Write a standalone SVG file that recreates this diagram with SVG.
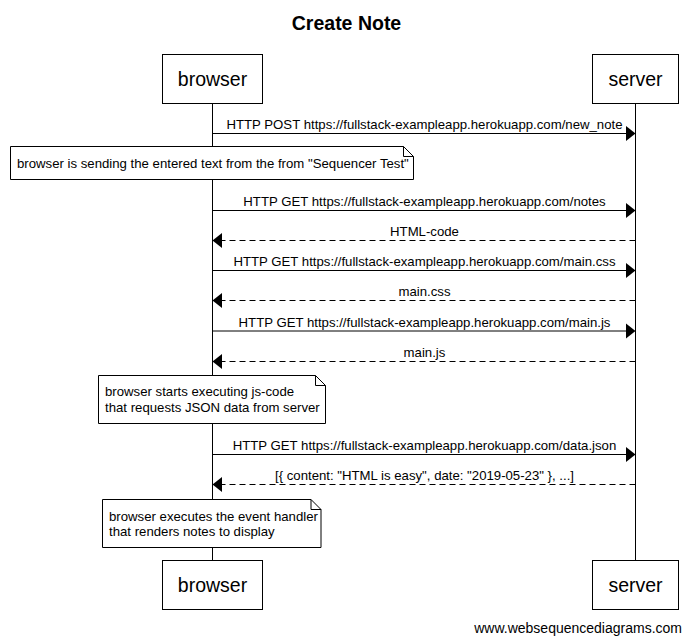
<svg xmlns="http://www.w3.org/2000/svg" width="693" height="643" viewBox="0 0 693 643">
<style>
text{font-family:"Liberation Sans",Arial,sans-serif;fill:#000}
.title{font-size:19.5px;font-weight:bold}
.actor{font-size:19.5px}
.msg{font-size:13.2px}
.foot{font-size:14px}
.box{fill:#fff;stroke:#000;stroke-width:1}
.life{stroke:#000;stroke-width:1;fill:none}
.sol{stroke:#000;stroke-width:1;fill:none}
.dash{stroke:#000;stroke-width:1;fill:none;stroke-dasharray:6,4}
.head{fill:#000;stroke:none}
</style>
<rect width="693" height="643" fill="#fff"/>
<text class="title" x="346.5" y="30" text-anchor="middle">Create Note</text>
<g id="lifelines">
<line class="life" x1="212.5" y1="103" x2="212.5" y2="561"/>
<line class="life" x1="635.5" y1="103" x2="635.5" y2="561"/>
</g>
<g id="browser">
<rect class="box" x="162.5" y="54.5" width="100" height="49"/>
<text class="actor" x="212.5" y="86" text-anchor="middle">browser</text>
<rect class="box" x="162.5" y="560.5" width="100" height="49"/>
<text class="actor" x="212.5" y="592" text-anchor="middle">browser</text>
</g>
<g id="server">
<rect class="box" x="592.5" y="54.5" width="86" height="49"/>
<text class="actor" x="635.5" y="86" text-anchor="middle">server</text>
<rect class="box" x="592.5" y="560.5" width="86" height="49"/>
<text class="actor" x="635.5" y="592" text-anchor="middle">server</text>
</g>
<g id="connectors">
<line class="sol" x1="212.5" y1="133.5" x2="627" y2="133.5"/>
<polygon class="head" points="635.5,133.5 626,126 626,141"/>
<text class="msg" x="424.5" y="129" text-anchor="middle">HTTP POST https://fullstack-exampleapp.herokuapp.com/new_note</text>

<line class="sol" x1="212.5" y1="210.5" x2="627" y2="210.5"/>
<polygon class="head" points="635.5,210.5 626,203 626,218"/>
<text class="msg" x="424.5" y="206" text-anchor="middle">HTTP GET https://fullstack-exampleapp.herokuapp.com/notes</text>

<line class="dash" x1="635.5" y1="240.5" x2="221" y2="240.5"/>
<polygon class="head" points="212.5,240.5 222,233 222,248"/>
<text class="msg" x="424.5" y="236" text-anchor="middle">HTML-code</text>

<line class="sol" x1="212.5" y1="270.5" x2="627" y2="270.5"/>
<polygon class="head" points="635.5,270.5 626,263 626,278"/>
<text class="msg" x="424.5" y="266" text-anchor="middle">HTTP GET https://fullstack-exampleapp.herokuapp.com/main.css</text>

<line class="dash" x1="635.5" y1="300.5" x2="221" y2="300.5"/>
<polygon class="head" points="212.5,300.5 222,293 222,308"/>
<text class="msg" x="424.5" y="296" text-anchor="middle">main.css</text>

<line class="sol" x1="212.5" y1="331" x2="627" y2="331"/>
<polygon class="head" points="635.5,331 626,323.5 626,338.5"/>
<text class="msg" x="424.5" y="326.5" text-anchor="middle">HTTP GET https://fullstack-exampleapp.herokuapp.com/main.js</text>

<line class="dash" x1="635.5" y1="361.5" x2="221" y2="361.5"/>
<polygon class="head" points="212.5,361.5 222,354 222,369"/>
<text class="msg" x="424.5" y="357" text-anchor="middle">main.js</text>

<line class="sol" x1="212.5" y1="454.5" x2="627" y2="454.5"/>
<polygon class="head" points="635.5,454.5 626,447 626,462"/>
<text class="msg" x="424.5" y="450" text-anchor="middle">HTTP GET https://fullstack-exampleapp.herokuapp.com/data.json</text>

<line class="dash" x1="635.5" y1="484.5" x2="221" y2="484.5"/>
<polygon class="head" points="212.5,484.5 222,477 222,492"/>
<text class="msg" x="424.5" y="480" text-anchor="middle">[{ content: "HTML is easy", date: "2019-05-23" }, ...]</text>
</g>
<g id="note1">
<path class="box" d="M10.5,146.5 H403.5 L413.5,156.5 V179.5 H10.5 Z"/>
<path class="sol" d="M403.5,146.5 V156.5 H413.5"/>
<text class="msg" x="17" y="167.5">browser is sending the entered text from the from "Sequencer Test"</text>
</g>
<g id="note2">
<path class="box" d="M98.5,375.5 H315.5 L325.5,385.5 V423.5 H98.5 Z"/>
<path class="sol" d="M315.5,375.5 V385.5 H325.5"/>
<text class="msg" x="105" y="396">browser starts executing js-code</text>
<text class="msg" x="105" y="411.5">that requests JSON data from server</text>
</g>
<g id="note3">
<path class="box" d="M102.5,499.5 H311 L321,509.5 V547.5 H102.5 Z"/>
<path class="sol" d="M311,499.5 V509.5 H321"/>
<text class="msg" x="109" y="520.5">browser executes the event handler</text>
<text class="msg" x="109" y="536">that renders notes to display</text>
</g>
<text class="foot" x="682" y="633" text-anchor="end">www.websequencediagrams.com</text>
</svg>
